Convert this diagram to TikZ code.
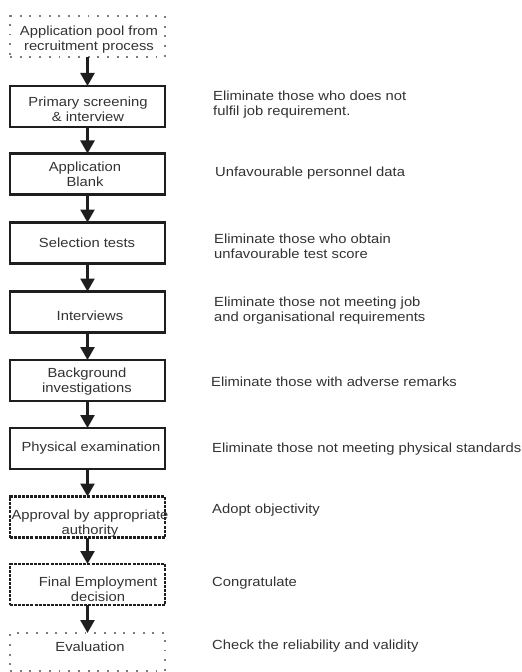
\documentclass[tikz,border=0pt]{standalone}
\usepackage{fontspec}
\setmainfont{Liberation Sans}
\newfontfamily\flowfont[FakeStretch=1.12]{Liberation Sans}
\usetikzlibrary{arrows.meta,calc}

\definecolor{inkbox}{HTML}{1E1E1E}
\definecolor{inktext}{HTML}{333333}
\definecolor{inkdot}{HTML}{7E7E7E}

\tikzset{
  stepbox/.style={draw=inkbox, line width=2.2bp, minimum width=155bp,
    minimum height=41bp, inner sep=0pt, outer sep=0pt},
  dashbox/.style={stepbox, dash pattern=on 3bp off 1.1bp},
  dotbox/.style={stepbox, draw=inkdot, line width=2bp,
    dash pattern=on 1.9bp off 7.8bp},
  steptext/.style={text=inktext, align=center, inner sep=0pt,
    font=\flowfont\fontsize{13.2bp}{15bp}\selectfont},
  note/.style={steptext, align=left, anchor=west},
  flow/.style={draw=inkbox, line width=2.6bp,
    -{Triangle[width=14bp,length=13bp]}}
}

\begin{document}
\begin{tikzpicture}[x=1bp, y=-1bp]
  \useasboundingbox (0,0) rectangle (522,672);

  % process steps
  \node[dotbox]  (b1)  at (87.5, 36.5) {};
  \node[stepbox] (b2)  at (87.5,106.5) {};
  \node[stepbox] (b3)  at (87.5,174)   {};
  \node[stepbox] (b4)  at (87.5,243)   {};
  \node[stepbox] (b5)  at (87.5,312)   {};
  \node[stepbox] (b6)  at (87.5,380.5) {};
  \node[stepbox] (b7)  at (87.5,448.5) {};
  \node[dashbox] (b8)  at (87.5,517)   {};
  \node[dashbox] (b9)  at (87.5,584.5) {};
  \node[dotbox, minimum height=38bp] (b10) at (87.5,652) {};

  % step captions
  \node[steptext] (t1)  at (89,40)    {Application pool from\\recruitment process};
  \node[steptext] (t2)  at (88,109.5) {Primary screening\\\& interview};
  \node[steptext] (t3)  at (85,174.5) {Application\\Blank};
  \node[steptext] (t4)  at (87,243)   {Selection tests};
  \node[steptext] (t5)  at (90,316)   {Interviews};
  \node[steptext] (t6)  at (87,382)   {Background\\investigations};
  \node[steptext] (t7)  at (91,448)   {Physical examination};
  \node[steptext] (t8)  at (90,523.5) {Approval by appropriate\\authority};
  \node[steptext] (t9)  at (98,589)   {Final Employment\\decision};
  \node[steptext] (t10) at (90,647)   {Evaluation};

  % flow arrows
  \draw[flow] (b1) -- (b2);
  \draw[flow] (b2) -- (b3);
  \draw[flow] (b3) -- (b4);
  \draw[flow] (b4) -- (b5);
  \draw[flow] (b5) -- (b6);
  \draw[flow] (b6) -- (b7);
  \draw[flow] (b7) -- (b8);
  \draw[flow] (b8) -- (b9);
  \draw[flow] (b9) -- (b10);

  % notes beside each step
  \node[note] (n2)  at (213,104.5) {Eliminate those who does not\\fulfil job requirement.};
  \node[note] (n3)  at (215,173)   {Unfavourable personnel data};
  \node[note] (n4)  at (214,246.5) {Eliminate those who obtain\\unfavourable test score};
  \node[note] (n5)  at (214,311)   {Eliminate those not meeting job\\and organisational requirements};
  \node[note] (n6)  at (211,382)   {Eliminate those with adverse remarks};
  \node[note] (n7)  at (212,449)   {Eliminate those not meeting physical standards};
  \node[note] (n8)  at (212,510)   {Adopt objectivity};
  \node[note] (n9)  at (212,583)   {Congratulate};
  \node[note] (n10) at (212,646)   {Check the reliability and validity};
\end{tikzpicture}
\end{document}
